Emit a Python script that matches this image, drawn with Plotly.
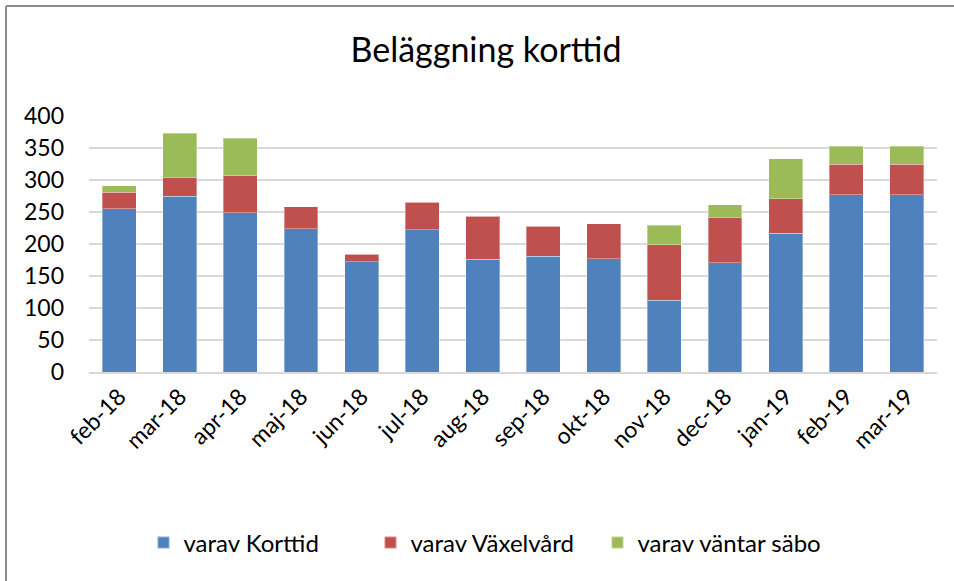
import plotly.graph_objects as go

months = ["feb-18", "mar-18", "apr-18", "maj-18", "jun-18", "jul-18", "aug-18",
          "sep-18", "okt-18", "nov-18", "dec-18", "jan-19", "feb-19", "mar-19"]
korttid = [255, 275, 249, 224, 172, 222, 176, 181, 177, 112, 171, 217, 277, 277]
vaxelvard = [26, 29, 58, 34, 12, 43, 67, 47, 55, 87, 71, 54, 48, 48]
vantar_sabo = [10, 69, 58, 0, 0, 0, 0, 0, 0, 30, 19, 62, 28, 28]
y_ticks = [0, 50, 100, 150, 200, 250, 300, 350, 400]

FONT = "Lato, 'Open Sans', sans-serif"

fig = go.Figure()
for name, vals, color in [("varav Korttid", korttid, "#4F81BD"),
                          ("varav Växelvård", vaxelvard, "#C0504D"),
                          ("varav väntar säbo", vantar_sabo, "#9BBB59")]:
    fig.add_trace(go.Bar(x=months, y=vals, name=name,
                         marker=dict(color=color, line=dict(color="rgba(255,255,255,0.35)", width=1))))

# plot area: x 89..937, y 116..372 in a 954x581 page
L, R, T, B = 89, 17, 116, 209
W, H = 954 - L - R, 581 - T - B

def px(x):
    return (x - L) / W

def py(y):
    return (581 - B - y) / H

fig.update_layout(
    width=954, height=581,
    margin=dict(l=L, r=R, t=T, b=B),
    barmode="stack", bargap=0.44,
    plot_bgcolor="white", paper_bgcolor="white",
    font=dict(family=FONT, color="#000000", size=23),
    title=dict(text="Beläggning korttid", x=px(486), xref="paper", xanchor="center",
               y=1 - 50 / 581, yanchor="middle", font=dict(size=34, family=FONT, color="#000")),
    showlegend=True,
    legend=dict(orientation="h", x=px(484), xanchor="center", y=py(543), yanchor="middle",
                font=dict(size=24), itemsizing="constant", traceorder="normal",
                entrywidth=182, entrywidthmode="pixels"),
    xaxis=dict(tickangle=-45, showgrid=False, showline=True, linecolor="#D9D9D9", linewidth=2,
               tickfont=dict(size=23), ticks=""),
    yaxis=dict(range=[0, 400], tickvals=y_ticks, showgrid=True, gridcolor="#D9D9D9", gridwidth=2,
               zeroline=False, showline=False, tickfont=dict(size=23), ticklabelstandoff=24),
    shapes=[
        dict(type="line", xref="paper", yref="paper", x0=px(6), x1=px(954), y0=py(6), y1=py(6),
             line=dict(color="#8C8C8C", width=2)),
        dict(type="line", xref="paper", yref="paper", x0=px(6), x1=px(6), y0=py(6), y1=py(581),
             line=dict(color="#8C8C8C", width=2)),
    ],
)

fig.write_html("out.html", config={"displayModeBar": False},
               post_script="document.body.style.margin='0';document.body.style.overflow='hidden';")
